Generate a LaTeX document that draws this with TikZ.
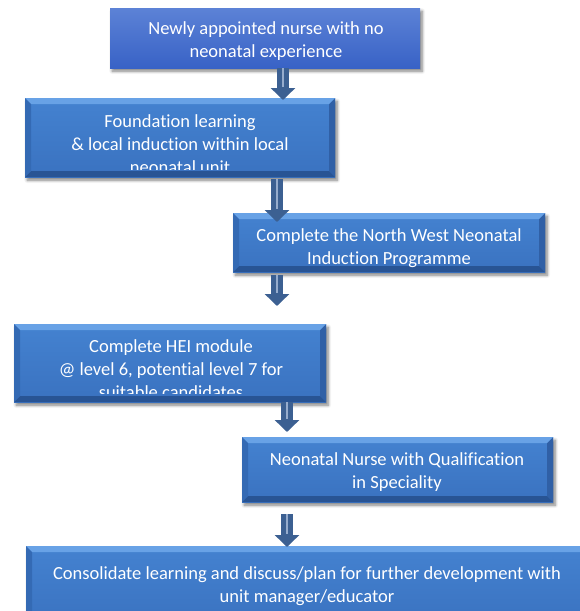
\documentclass[tikz,border=0pt]{standalone}
\usepackage{fontspec}
\setmainfont{Carlito}[Ligatures=NoCommon]
\usetikzlibrary{arrows.meta,shadows.blur,calc}

\definecolor{arrowblue}{RGB}{60,96,146}
\definecolor{arrowlight}{RGB}{150,172,205}
\definecolor{topA}{RGB}{92,130,214}
\definecolor{topB}{RGB}{56,98,198}
\definecolor{faceA}{RGB}{68,130,208}
\definecolor{faceB}{RGB}{58,114,192}
\definecolor{bevlight}{RGB}{104,162,230}
\definecolor{bevleft}{RGB}{52,106,180}
\definecolor{bevright}{RGB}{48,96,166}
\definecolor{bevbottom}{RGB}{40,84,148}

\tikzset{
  softshadow/.style={blur shadow={shadow xshift=2pt, shadow yshift=-3pt,
      shadow blur steps=6, shadow blur radius=3pt, shadow opacity=50}},
  flatbox/.style={rectangle, inner sep=0pt, anchor=north west,
      top color=topA, bottom color=topB, softshadow},
  bevelbox/.style={rectangle, inner sep=0pt, anchor=north west,
      top color=faceA, bottom color=faceB, softshadow,
      path picture={
        \fill[bevlight] (path picture bounding box.north west) -- (path picture bounding box.north east)
          -- ([xshift=-6pt,yshift=-6pt]path picture bounding box.north east)
          -- ([xshift=6pt,yshift=-6pt]path picture bounding box.north west) -- cycle;
        \fill[bevleft] (path picture bounding box.north west)
          -- ([xshift=6pt,yshift=-6pt]path picture bounding box.north west)
          -- ([xshift=6pt,yshift=6pt]path picture bounding box.south west)
          -- (path picture bounding box.south west) -- cycle;
        \fill[bevright] (path picture bounding box.north east)
          -- ([xshift=-6pt,yshift=-6pt]path picture bounding box.north east)
          -- ([xshift=-6pt,yshift=6pt]path picture bounding box.south east)
          -- (path picture bounding box.south east) -- cycle;
        \fill[bevbottom] (path picture bounding box.south west)
          -- ([xshift=6pt,yshift=6pt]path picture bounding box.south west)
          -- ([xshift=-6pt,yshift=6pt]path picture bounding box.south east)
          -- (path picture bounding box.south east) -- cycle;
      }},
  boxtext/.style={text=white, align=center, inner sep=0pt,
      font=\fontsize{18.5}{23}\selectfont},
  flowarrow/.style={draw=arrowblue, line width=12pt,
      -{Triangle[width=24pt,length=12pt]},
      postaction={draw=arrowlight, line width=1.5pt, -, shorten >=13pt}}
}

\begin{document}
\begin{tikzpicture}[x=1pt, y=-1pt]
  \useasboundingbox (0,0) rectangle (580,611);
  \clip (0,0) rectangle (580,611);

  % boxes
  \node[flatbox, minimum width=310pt, minimum height=60pt] (b1) at (110,8) {};
  \node[bevelbox, minimum width=310pt, minimum height=79pt] (b2) at (25,98) {};
  \node[bevelbox, minimum width=312pt, minimum height=59pt] (b3) at (233,213) {};
  \node[bevelbox, minimum width=312pt, minimum height=78pt] (b4) at (14,324) {};
  \node[bevelbox, minimum width=311pt, minimum height=65pt] (b5) at (242,437) {};

  % box texts
  \node[boxtext] (t1) at (266,41) {Newly appointed nurse with no\\ neonatal experience};
  \begin{scope}
    \clip (b2.north west) rectangle ([yshift=8pt]b2.south east);
    \node[boxtext] (t2) at (180,144) {Foundation learning\\ \& local induction within local\\ neonatal unit};
  \end{scope}
  \node[boxtext] (t3) at (389,248) {Complete the North West Neonatal\\ Induction Programme};
  \begin{scope}
    \clip (b4.north west) rectangle ([yshift=9pt]b4.south east);
    \node[boxtext] (t4) at (171,369) {Complete HEI module\\ @ level 6, potential level 7 for\\ suitable candidates};
  \end{scope}
  \node[boxtext] (t5) at (397,472) {Neonatal Nurse with Qualification\\ in Speciality};

  % connectors
  \coordinate (xa) at (283,0);
  \coordinate (xb) at (277,0);
  \coordinate (xc) at (287,0);
  \draw[flowarrow] (b1.south -| xa) -- ($(b2.north -| xa)+(0,2)$);
  \draw[flowarrow] ($(b2.south -| xb)+(0,2)$) -- ($(b3.north -| xb)+(0,9)$);
  \draw[flowarrow] ($(b3.south -| xb)+(0,3)$) -- ($(b4.north -| xb)+(0,-18)$);
  \draw[flowarrow] (b4.south -| xc) -- ($(b5.north -| xc)+(0,-5)$);

  % last step
  \node[bevelbox, minimum width=566pt, minimum height=80pt] (b6) at (26,546) {};
  \draw[flowarrow] ($(b5.south -| xc)+(0,12)$) -- ($(b6.north -| xc)+(0,1)$);
  \node[boxtext] (t6) at (307,586) {Consolidate learning and discuss/plan for further development with\\ unit manager/educator};
\end{tikzpicture}
\end{document}
